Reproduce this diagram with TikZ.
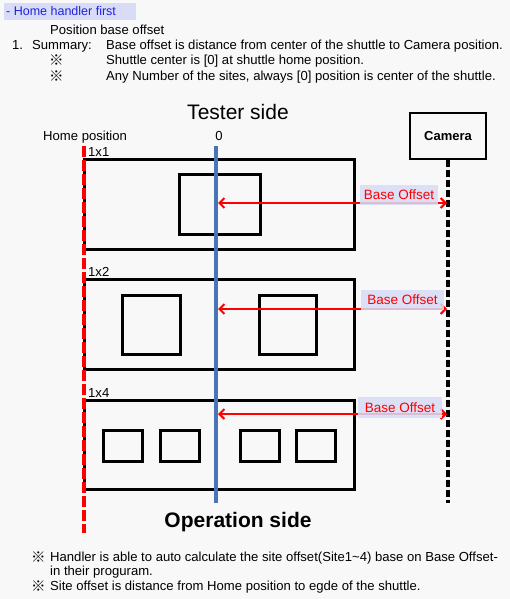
\documentclass[tikz,border=0pt]{standalone}
\usepackage{fontspec}
\setmainfont{Liberation Sans}
\newfontfamily\cjk{Noto Sans CJK JP}
\usetikzlibrary{arrows.meta}
\definecolor{bgc}{HTML}{F8F8F8}
\definecolor{hil}{HTML}{D8DCF6}
\definecolor{ttl}{HTML}{2222DD}
\definecolor{bline}{HTML}{4A74B4}
\begin{document}
\begin{tikzpicture}[x=1pt,y=-1pt,
  txt/.style={anchor=base west,inner sep=0pt,font=\fontsize{13.1}{15}\selectfont},
  big/.style={anchor=base,inner sep=0pt,font=\fontsize{21}{24}\selectfont},
  shuttle/.style={draw,line width=3pt,inner sep=0pt},
  site/.style={draw,line width=3pt,inner sep=0pt},
  offarrow/.style={red,line width=2pt,{Straight Barb[length=5pt,width=10pt]}-{Straight Barb[length=5pt,width=10pt]}},
  offlabel/.style={fill=hil,fill opacity=0.85,text opacity=1,text=red,inner sep=0pt,
    text height=11pt,text depth=2pt,font=\fontsize{13.5}{15}\selectfont},
  kome/.style={anchor=base west,inner sep=0pt,font=\cjk\fontsize{14.5}{15}\selectfont}]
\fill[bgc] (0,0) rectangle (510,599);
\useasboundingbox (0,0) rectangle (510,599);

% header
\node[fill=hil,inner sep=0pt,minimum width=132,minimum height=17,anchor=north west] (hbox) at (4,3) {};
\node[txt,text=ttl,font=\fontsize{12.5}{15}\selectfont] (htitle) at (6,16) {- Home handler first};
\node[txt] (pbo) at (50,35) {Position base offset};
\node[txt] (num) at (12,50) {1.};
\node[txt] (summ) at (32,50) {Summary:};
\node[txt] (s1) at (106,50) {Base offset is distance from center of the shuttle to Camera position.};
\node[kome] (k1) at (49,66) {※};
\node[txt] (s2) at (106,65) {Shuttle center is [0] at shuttle home position.};
\node[kome] (k2) at (49,82) {※};
\node[txt] (s3) at (106,81) {Any Number of the sites, always [0] position is center of the shuttle.};

% titles
\node[big] (tester) at (238,120) {Tester side};
\node[big,font=\fontsize{21}{24}\selectfont\bfseries] (oper) at (238,527) {Operation side};
\node[txt] (homepos) at (43,140) {Home position};
\node[txt,anchor=base] (zero) at (219,140) {0};

% camera
\node[draw,line width=2.5pt,minimum width=76,minimum height=46,inner sep=0pt,
  font=\fontsize{13}{15}\selectfont\bfseries] (cam) at (448,136) {Camera};

% shuttles
\node[shuttle,minimum width=270,minimum height=90] (sh1) at (219,204) {};
\node[site,minimum width=81,minimum height=60] (a1) at (219.5,204) {};
\node[txt] (l1) at (88,156) {1x1};

\node[shuttle,minimum width=270,minimum height=90] (sh2) at (219,324) {};
\node[site,minimum width=58,minimum height=59] (b1) at (151,324.5) {};
\node[site,minimum width=57,minimum height=59] (b2) at (287.5,324.5) {};
\node[txt] (l2) at (88,276) {1x2};

\node[shuttle,minimum width=270,minimum height=89] (sh3) at (219,444.5) {};
\node[site,minimum width=39,minimum height=31] (c1) at (122.5,445.5) {};
\node[site,minimum width=39,minimum height=31] (c2) at (179.5,445.5) {};
\node[site,minimum width=39,minimum height=31] (c3) at (259.5,445.5) {};
\node[site,minimum width=39,minimum height=31] (c4) at (315.5,445.5) {};
\node[txt] (l3) at (88,397) {1x4};

% vertical lines
\coordinate (homeT) at (84,146);
\coordinate (homeB) at (84,533);
\coordinate (zeroT) at (216,146);
\coordinate (zeroB) at (216,503);
\coordinate (camB) at (448,503);
\draw[red,line width=4pt,dash pattern=on 11pt off 3pt] (homeT) -- (homeB);
\draw[bline,line width=3.5pt] (zeroT) -- (zeroB);
\draw[black,line width=4pt,dash pattern=on 7pt off 3pt] (cam.south) -- (camB);

% offsets
\coordinate (o1L) at (218,203); \coordinate (o1R) at (447,203);
\coordinate (o2L) at (218,309); \coordinate (o2R) at (447,309);
\coordinate (o3L) at (218,414); \coordinate (o3R) at (447,414);
\draw[offarrow] (o1L) -- (o1R);
\draw[offarrow] (o2L) -- (o2R);
\draw[offarrow] (o3L) -- (o3R);
\node[offlabel,minimum width=78,minimum height=20] (bo1) at (399,195) {Base Offset};
\node[offlabel,minimum width=83,minimum height=20] (bo2) at (402.5,300) {Base Offset};
\node[offlabel,minimum width=84,minimum height=21] (bo3) at (400,407.5) {Base Offset};

% footer
\node[kome] (k3) at (31,562) {※};
\node[txt] (f1) at (50,561) {Handler is able to auto calculate the site offset(Site1\textasciitilde4) base on Base Offset-};
\node[txt] (f2) at (50,575) {in their proguram.};
\node[kome] (k4) at (31,591) {※};
\node[txt] (f3) at (50,590) {Site offset is distance from Home position to egde of the shuttle.};
\end{tikzpicture}
\end{document}
